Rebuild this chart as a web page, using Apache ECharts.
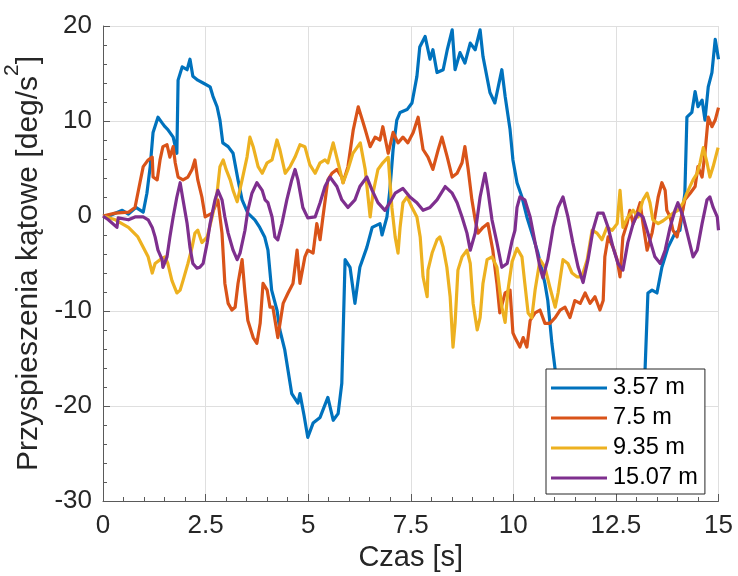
<!DOCTYPE html>
<html>
<head>
<meta charset="utf-8">
<script src="https://cdn.jsdelivr.net/npm/echarts@6/dist/echarts.min.js"></script>
<style>
html,body{margin:0;padding:0;background:#fff;}
#chart{width:738px;height:576px;}
</style>
</head>
<body>
<div id="chart"></div>
<script>
// ---- Data (time [s], angular acceleration [deg/s^2]) ----
const seriesNames = ['3.57 m', '7.5 m', '9.35 m', '15.07 m'];
const seriesColors = ['#0072BD', '#D95319', '#EDB120', '#7E2F8E'];
const xTicks = [0, 2.5, 5, 7.5, 10, 12.5, 15];
const yTicks = [-30, -20, -10, 0, 10, 20];

const t357 = [0,0.2,0.47,0.62,0.8,0.98,1.07,1.15,1.22,1.34,1.44,1.51,1.58,1.71,1.8,1.83,1.93,2.05,2.12,2.19,2.31,2.44,2.61,2.68,2.78,2.85,2.92,3.05,3.17,3.29,3.39,3.53,3.7,3.82,3.94,4.02,4.11,4.24,4.31,4.43,4.6,4.75,4.8,4.9,4.99,5.12,5.29,5.48,5.61,5.73,5.82,5.9,6.02,6.14,6.26,6.43,6.56,6.75,6.8,6.92,6.99,7.07,7.16,7.24,7.41,7.53,7.65,7.72,7.85,7.97,8.04,8.14,8.29,8.39,8.51,8.58,8.7,8.82,8.95,9.07,9.19,9.26,9.43,9.55,9.72,9.8,9.92,9.99,10.09,10.21,10.33,10.48,10.6,10.77,10.84,10.94,11.02,11.2,11.5,12.0,12.5,13.0,13.21,13.28,13.38,13.5,13.62,13.77,13.94,14.06,14.18,14.23,14.35,14.43,14.5,14.6,14.67,14.75,14.84,14.92,15.0];
const y357 = [0,0.1,0.6,0.2,0.9,0.4,2.4,5.2,8.8,10.4,9.8,9.4,9.1,8.3,6.6,14.3,15.7,15.4,16.5,14.7,14.3,14.0,13.6,12.6,11.5,10.1,7.7,7.3,6.6,3.8,1.7,0.3,-0.4,-1.2,-2.2,-3.6,-7.8,-9.9,-12.0,-14.1,-18.7,-19.7,-18.7,-21,-23.3,-21.8,-21.2,-19.1,-21.5,-20.8,-17.6,-4.6,-5.4,-9.2,-5.4,-3.3,-1.2,-0.8,-2.0,-0.1,2.7,7.0,10.1,10.9,11.2,11.9,14.7,17.8,18.9,16.5,17.5,15.1,15.4,17.5,19.6,15.4,17.2,16.1,18.2,17.5,19.6,16.8,13.0,11.9,15.4,12.6,9.1,5.9,3.5,2.0,-0.1,-2.2,-3.9,-7.1,-8.9,-13.4,-16.2,-19,-22,-24,-23.5,-21,-16.2,-8.1,-7.8,-8.1,-5.4,-3.3,-1.8,-1.5,2.4,10.4,10.9,13.1,11.5,12.2,10.1,13.6,15.1,18.6,16.5];

const t75 = [0,0.3,0.62,0.78,0.9,0.98,1.1,1.2,1.22,1.32,1.39,1.46,1.56,1.63,1.71,1.76,1.83,1.95,2.07,2.17,2.24,2.31,2.41,2.49,2.66,2.8,2.9,2.97,3.05,3.14,3.22,3.29,3.39,3.46,3.53,3.66,3.75,3.83,3.9,4.0,4.07,4.14,4.26,4.39,4.51,4.63,4.73,4.8,4.92,4.99,5.12,5.21,5.29,5.36,5.48,5.58,5.7,5.82,5.85,5.97,6.1,6.22,6.32,6.39,6.51,6.63,6.75,6.82,6.95,7.07,7.19,7.31,7.43,7.56,7.68,7.8,7.92,8.04,8.17,8.26,8.39,8.51,8.63,8.75,8.82,8.9,8.99,9.07,9.14,9.26,9.38,9.5,9.6,9.67,9.8,9.92,9.99,10.04,10.16,10.24,10.33,10.41,10.53,10.65,10.77,10.89,11.02,11.14,11.26,11.38,11.5,11.63,11.75,11.87,11.99,12.11,12.19,12.23,12.31,12.43,12.53,12.6,12.67,12.77,12.84,12.92,13.01,13.09,13.16,13.26,13.38,13.45,13.53,13.62,13.7,13.74,13.82,13.89,13.99,14.06,14.18,14.31,14.43,14.5,14.6,14.67,14.75,14.84,14.92,15.0];
const y75 = [0,0.3,0.4,0.9,3.5,5.2,5.9,6.2,4.1,3.8,5.9,7.3,7.5,6.2,7.3,5.6,4.1,3.8,4.1,4.9,5.9,3.8,2.0,-0.1,0.3,1.7,-1.8,-7.1,-9.2,-9.9,-9.6,-7.1,-4.6,-8.1,-11.0,-12.8,-13.4,-11.3,-7.1,-7.8,-9.6,-9.6,-12.8,-9.2,-8.1,-7.1,-3.6,-7.1,-4.3,-3.6,-3.9,-0.8,-2.5,-0.1,3.8,4.5,4.9,4.1,3.5,5.2,9.1,11.5,10.1,9.1,7.3,8.3,8.0,9.4,6.6,8.8,7.7,8.3,7.7,8.8,10.4,7.0,6.2,4.9,7.0,8.3,6.2,4.1,4.5,5.6,7.3,4.9,1.7,-0.4,-1.8,-1.2,-0.8,-3.6,-7.1,-10.2,-8.1,-7.8,-12.3,-12.8,-13.8,-12.8,-13.8,-11.0,-10.2,-9.9,-11.3,-11.3,-10.7,-9.9,-9.6,-10.7,-8.9,-9.2,-8.1,-9.2,-8.5,-9.9,-8.9,-4.3,-2.2,-3.3,-4.6,-6.4,-2.2,-0.8,0.6,-0.8,0.3,1.4,-0.8,-3.6,-1.8,-0.1,2.0,3.5,2.7,0.6,-0.1,-1.5,-2.2,-0.8,1.7,2.4,3.1,5.2,4.1,6.6,10.4,9.4,10.1,11.4];

const t935 = [0,0.3,0.62,0.85,0.98,1.1,1.2,1.27,1.39,1.51,1.58,1.68,1.8,1.88,1.95,2.07,2.17,2.24,2.31,2.41,2.54,2.66,2.78,2.85,2.93,3.0,3.1,3.17,3.27,3.39,3.51,3.58,3.66,3.78,3.88,4.0,4.12,4.24,4.31,4.44,4.56,4.68,4.8,4.92,5.04,5.17,5.29,5.41,5.48,5.61,5.73,5.85,5.97,6.09,6.27,6.39,6.46,6.51,6.58,6.7,6.82,6.95,7.04,7.12,7.19,7.24,7.31,7.41,7.53,7.65,7.73,7.8,7.9,7.92,8.02,8.14,8.21,8.29,8.38,8.46,8.53,8.58,8.65,8.75,8.87,8.95,9.02,9.12,9.19,9.26,9.36,9.48,9.6,9.72,9.8,9.87,9.97,10.09,10.21,10.28,10.36,10.45,10.53,10.65,10.77,10.89,11.02,11.09,11.21,11.33,11.43,11.55,11.67,11.8,11.92,12.04,12.16,12.28,12.41,12.53,12.6,12.67,12.79,12.92,13.04,13.16,13.26,13.33,13.4,13.53,13.65,13.77,13.89,14.01,14.14,14.23,14.38,14.48,14.55,14.63,14.72,14.79,14.87,14.99];
const y935 = [0,-0.4,-1.2,-2.2,-3.3,-4.3,-6.0,-5.0,-4.6,-4.3,-5.0,-6.8,-8.1,-7.8,-6.8,-5.0,-3.3,-1.8,-1.5,-2.8,-2.2,-0.1,2.4,5.2,5.9,4.9,3.8,2.7,1.5,3.8,6.2,8.3,7.3,5.2,4.5,5.6,5.9,8.0,7.0,4.5,5.2,6.2,7.5,7.3,5.4,4.5,5.6,5.9,5.6,7.7,5.6,3.5,4.9,6.6,7.7,4.9,2.0,-0.1,2.4,4.9,5.6,6.2,0.9,-2.2,-3.9,-1.2,1.4,2.0,0.9,-0.1,-2.2,-6.4,-8.5,-5.7,-3.9,-2.5,-2.2,-3.3,-5.4,-8.5,-13.8,-11.3,-5.7,-4.3,-3.6,-5.0,-9.2,-12.0,-10.7,-7.1,-4.6,-4.3,-5.4,-9.6,-11.2,-7.8,-4.8,-3.4,-4.3,-7.1,-10.2,-10.7,-7.8,-4.6,-5.4,-7.5,-9.6,-8.1,-4.6,-5.0,-6.0,-6.4,-6.4,-4.6,-1.5,-1.8,-2.5,-1.2,-1.5,-0.8,2.7,-1.2,-0.1,0.6,-0.1,1.7,2.4,1.4,-0.4,-0.8,-0.5,-0.1,0.3,0.6,1.4,2.4,3.8,4.5,5.6,7.2,5.6,4.1,5.2,7.2];

const t1507 = [0,0.13,0.34,0.37,0.62,0.78,0.98,1.1,1.2,1.27,1.34,1.44,1.46,1.56,1.63,1.71,1.8,1.88,1.95,2.05,2.12,2.19,2.29,2.36,2.44,2.54,2.61,2.73,2.8,2.9,2.97,3.05,3.17,3.27,3.34,3.46,3.53,3.63,3.75,3.88,3.95,4.02,4.12,4.19,4.26,4.36,4.48,4.6,4.68,4.75,4.87,4.99,5.17,5.29,5.41,5.53,5.7,5.82,5.97,6.14,6.26,6.43,6.56,6.7,6.87,6.99,7.12,7.31,7.48,7.65,7.8,7.97,8.14,8.34,8.51,8.63,8.75,8.87,8.95,9.07,9.19,9.31,9.38,9.48,9.6,9.72,9.85,9.97,10.04,10.09,10.16,10.28,10.41,10.53,10.65,10.72,10.84,10.97,11.09,11.21,11.33,11.45,11.58,11.7,11.82,11.94,12.06,12.19,12.31,12.43,12.55,12.67,12.79,12.92,13.04,13.16,13.28,13.45,13.58,13.7,13.82,13.94,14.01,14.14,14.26,14.38,14.48,14.6,14.72,14.79,14.87,14.97,15.0];
const y1507 = [0,-0.4,-1.2,-0.2,-0.4,-0.1,-0.1,-0.4,-1.2,-2.2,-3.6,-4.6,-5.4,-4.3,-2.2,-0.1,2.0,3.5,1.7,-0.8,-3.3,-5.0,-5.5,-5.4,-5.0,-2.8,-0.8,1.7,2.7,1.7,-0.1,-1.8,-3.6,-4.6,-3.9,-1.5,0.6,2.4,3.5,2.7,1.7,1.4,-0.1,-2.2,-2.5,-0.8,1.7,3.8,4.9,3.8,0.9,-0.2,-0.1,1.4,3.1,4.1,3.1,1.7,0.9,1.7,3.1,4.1,2.7,1.4,0.6,1.4,2.4,2.9,2.0,1.4,0.6,0.9,1.7,3.1,2.4,1.4,-0.1,-1.8,-3.6,-1.8,2.0,4.5,2.7,-0.4,-2.8,-5.4,-5.0,-2.6,-1.5,0.9,2.0,1.7,-0.1,-2.8,-5.4,-6.5,-4.6,-1.2,0.9,2.0,-0.1,-2.8,-5.4,-7.0,-4.6,-1.5,0.3,0.3,-1.2,-3.3,-5.0,-5.7,-2.8,-0.8,0.3,-0.1,-1.8,-4.3,-5.0,-3.6,-1.2,0.6,1.4,-0.1,-2.2,-4.3,-3.6,-0.8,1.7,2.0,0.9,-0.1,-1.5];

const seriesT = [t357, t75, t935, t1507];
const seriesY = [y357, y75, y935, y1507];

// ---- Chart ----
const FONT = 'Liberation Sans, Arial, Helvetica, sans-serif';
const AX = '#262626';
const axisCommon = {
  type: 'value',
  axisLine: { show: true, onZero: false, lineStyle: { color: '#5a5a5a', width: 1 } },
  axisTick: { show: true, inside: true, length: 7, lineStyle: { color: '#5a5a5a', width: 1 } },
  minorTick: { show: true, splitNumber: 5, length: 4, lineStyle: { color: '#5a5a5a', width: 1 } },
  splitLine: { show: true, showMinLine: true, showMaxLine: true, lineStyle: { color: '#dfdfdf', width: 1 } },
  minorSplitLine: { show: false },
  axisLabel: { color: AX, fontSize: 26, fontFamily: FONT },
  nameLocation: 'middle'
};

const chart = echarts.init(document.getElementById('chart'), null, { renderer: 'canvas' });
chart.setOption({
  animation: false,
  backgroundColor: '#ffffff',
  grid: { left: 103, right: 19.5, top: 26, bottom: 75, containLabel: false, outerBoundsMode: 'none' },
  xAxis: Object.assign({}, axisCommon, {
    min: xTicks[0], max: xTicks[xTicks.length - 1], interval: xTicks[1] - xTicks[0],
    axisLabel: Object.assign({}, axisCommon.axisLabel, { margin: 12 }),
    name: 'Czas [s]', nameGap: 42,
    nameTextStyle: { color: AX, fontSize: 29, fontFamily: FONT }
  }),
  yAxis: Object.assign({}, axisCommon, {
    min: yTicks[0], max: yTicks[yTicks.length - 1], interval: yTicks[1] - yTicks[0],
    axisLabel: Object.assign({}, axisCommon.axisLabel, { margin: 11 }),
    name: '{a|Przyspieszenia kątowe [deg/s}{b|2}{a|]}', nameGap: 38, nameRotate: 90,
    nameTextStyle: {
      color: AX, fontFamily: FONT,
      rich: {
        a: { fontSize: 30, lineHeight: 42, verticalAlign: 'bottom', color: AX, fontFamily: FONT },
        b: { fontSize: 21, lineHeight: 21, verticalAlign: 'top', color: AX, fontFamily: FONT }
      }
    }
  }),
  legend: {
    orient: 'vertical', left: 546, top: 369, z: 10,
    backgroundColor: '#ffffff', borderColor: '#262626', borderWidth: 1,
    padding: [7, 7, 4, 5],
    icon: 'rect', itemWidth: 56, itemHeight: 3, itemGap: 6,
    textStyle: { fontSize: 23.5, lineHeight: 22, color: '#000', fontFamily: FONT, padding: [0, 0, 0, 1] },
    data: seriesNames
  },
  series: seriesNames.map((n, i) => ({
    name: n, type: 'line', showSymbol: false, symbol: 'none',
    color: seriesColors[i],
    lineStyle: { width: 3.2, color: seriesColors[i], join: 'round' },
    data: seriesT[i].map((t, k) => [t, seriesY[i][k]]),
    clip: true, z: 2 + i
  }))
});
</script>
</body>
</html>
